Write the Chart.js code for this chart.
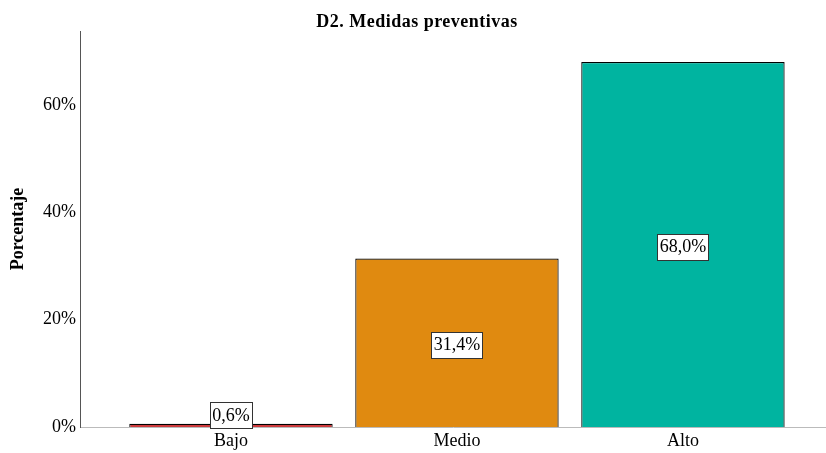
<!DOCTYPE html>
<html>
<head>
<meta charset="utf-8">
<script src="https://cdn.jsdelivr.net/npm/chart.js@4/dist/chart.umd.min.js"></script>
<style>
  html, body { margin: 0; padding: 0; background: #fff; }
  #wrap { width: 826px; height: 453px; }
</style>
</head>
<body>
<div id="wrap"><canvas id="c" width="826" height="453"></canvas></div>
<script>
// Nivel de medidas preventivas (porcentaje)
const chartTitle = 'D2. Medidas preventivas';
const categories = ['Bajo', 'Medio', 'Alto'];
const percentages = [0.6, 31.4, 68.0];
const yTicks = [0, 20, 40, 60];
const barColors = ['#cd3b3d', '#e08a10', '#00b4a0'];

const SERIF = "'Liberation Serif', 'Times New Roman', serif";

const fmt = v => v.toFixed(1).replace('.', ',') + '%';

// Boxed percentage label in the middle of each bar
const boxLabels = {
  id: 'boxLabels',
  afterDatasetsDraw(chart) {
    const ctx = chart.ctx;
    const meta = chart.getDatasetMeta(0);
    ctx.save();
    ctx.font = '18px ' + SERIF;
    ctx.textAlign = 'center';
    ctx.textBaseline = 'middle';
    meta.data.forEach((bar, i) => {
      const text = fmt(percentages[i]);
      const w = Math.round(ctx.measureText(text).width + 5);
      const h = 26;
      const cy = Math.min((bar.y + bar.base) / 2 + 2, bar.base - h / 2 + 1);
      const x0 = Math.round(bar.x - w / 2) + 0.5;
      const y0 = Math.round(cy - h / 2) + 0.5;
      ctx.fillStyle = '#fff';
      ctx.fillRect(x0, y0, w, h);
      ctx.strokeStyle = '#333';
      ctx.lineWidth = 1;
      ctx.strokeRect(x0, y0, w, h);
      ctx.fillStyle = '#000';
      ctx.fillText(text, bar.x, cy + 1);
    });
    ctx.restore();
  }
};

// Chart heading, drawn centred across the canvas
const heading = {
  id: 'heading',
  afterDraw(chart) {
    const ctx = chart.ctx;
    ctx.save();
    ctx.font = 'bold 18px ' + SERIF;
    ctx.letterSpacing = '0.5px';
    ctx.fillStyle = '#000';
    ctx.textAlign = 'center';
    ctx.textBaseline = 'alphabetic';
    ctx.fillText(chartTitle, chart.width / 2 + 4, 27);
    ctx.restore();
  }
};

new Chart(document.getElementById('c'), {
  type: 'bar',
  data: {
    datasets: [{
      data: percentages.map((v, i) => ({ x: i, y: v })),
      backgroundColor: barColors,
      borderColor: '#000',
      borderWidth: 1.2,
      categoryPercentage: 1,
      barPercentage: 0.9
    }]
  },
  options: {
    responsive: false,
    animation: false,
    layout: { padding: { left: 0, right: 0, top: 31, bottom: 0 } },
    plugins: {
      legend: { display: false },
      tooltip: { enabled: false },
      title: { display: false }
    },
    scales: {
      x: {
        type: 'linear',
        offset: false,
        min: -0.668,
        max: 2.633,
        grid: { display: false, drawTicks: false, offset: false },
        border: { color: '#bbb', width: 1 },
        afterBuildTicks(scale) { scale.ticks = categories.map((_, i) => ({ value: i })); },
        afterFit(scale) { scale.height = 26; },
        ticks: {
          color: '#000',
          padding: 3,
          autoSkip: false,
          maxRotation: 0,
          font: { family: SERIF, size: 18 },
          callback: v => categories[v]
        }
      },
      y: {
        min: 0,
        max: 73.8,
        grid: { display: false, drawTicks: false },
        border: { color: '#555', width: 1 },
        afterBuildTicks(scale) { scale.ticks = yTicks.map(v => ({ value: v })); },
        afterFit(scale) { scale.width = 80; },
        ticks: {
          color: '#000',
          padding: 4,
          font: { family: SERIF, size: 18 },
          callback: v => v + '%'
        },
        title: {
          display: true,
          text: 'Porcentaje',
          color: '#000',
          padding: { top: 8, bottom: 0 },
          font: { family: SERIF, size: 18, weight: 'bold' }
        }
      }
    }
  },
  plugins: [boxLabels, heading]
});
</script>
</body>
</html>
